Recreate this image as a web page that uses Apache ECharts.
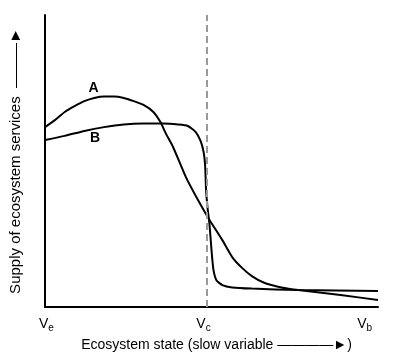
<!DOCTYPE html>
<html>
<head>
<meta charset="utf-8">
<script src="https://cdn.jsdelivr.net/npm/echarts@6/dist/echarts.min.js"></script>
<style>html,body{margin:0;padding:0;background:#fff}#c{width:396px;height:364px}</style>
</head>
<body>
<div id="c"></div>
<script>
// Curve A: peaked supply that declines gradually
var curveA = [
  [0, 61.6], [2.96, 64.0], [5.92, 66.8], [8.88, 68.8], [11.83, 70.5], [14.79, 71.6],
  [17.75, 72.1], [20.71, 72.1], [23.67, 71.6], [26.63, 70.5], [29.59, 69.2], [32.54, 66.8],
  [34.62, 63.4], [36.39, 59.2], [38.46, 54.8], [42.31, 44.5], [46.45, 35.6], [49.41, 29.8],
  [53.25, 22.9], [56.21, 17.1], [59.17, 13.4], [62.13, 10.6], [65.98, 8.2], [71.01, 6.7],
  [76.04, 5.8], [88.76, 4.1], [100, 2.4]
];
// Curve B: flat supply with abrupt collapse at Vc
var curveB = [
  [0, 57.2], [5.92, 58.6], [11.83, 60.3], [17.75, 61.6], [23.67, 62.5], [29.59, 62.8],
  [35.5, 62.8], [39.94, 62.5], [42.9, 62.0], [45.27, 59.9], [46.75, 56.8], [47.63, 53.1],
  [48.08, 48.6], [48.37, 40.1], [48.82, 33.9], [49.41, 28.1], [50.0, 19.5], [50.59, 12.7],
  [51.48, 9.2], [53.25, 7.5], [56.21, 6.7], [62.13, 6.3], [76.04, 5.8], [100, 5.5]
];
var vcPosition = 48.5;
var tickPositions = [0.44, 47.6, 96.0];
var tickSubscripts = ['e', 'c', 'b'];
var labelA = [14.6, 75.0];
var labelB = [15.0, 57.9];

var FONT = '"Liberation Sans", Arial, sans-serif';
var chart = echarts.init(document.getElementById('c'), null, {renderer: 'canvas'});
chart.setOption({
  animation: false,
  backgroundColor: '#fff',
  grid: {left: 40, right: 18, top: 15, bottom: 57, containLabel: false},
  xAxis: {
    type: 'value', min: 0, max: 100,
    splitLine: {show: false},
    axisTick: {show: false},
    axisLine: {show: true, lineStyle: {color: '#000', width: 2}},
    axisLabel: {
      show: true,
      customValues: tickPositions,
      margin: 8,
      formatter: function (v) {
        var i = tickPositions.indexOf(v);
        return '{v|V}{s|' + (i >= 0 ? tickSubscripts[i] : '') + '}';
      },
      rich: {
        v: {fontFamily: FONT, fontSize: 14, color: '#000', lineHeight: 18, verticalAlign: 'middle'},
        s: {fontFamily: FONT, fontSize: 10, color: '#000', lineHeight: 18, verticalAlign: 'bottom'}
      }
    },
    name: 'Ecosystem state (slow variable \u2014\u2014\u2014\u2014\u25BA)',
    nameLocation: 'middle',
    nameGap: 29,
    nameTextStyle: {fontFamily: FONT, fontSize: 14, color: '#000', padding: [0, 0, 0, 10]}
  },
  yAxis: {
    type: 'value', min: 0, max: 100,
    splitLine: {show: false},
    axisTick: {show: false},
    axisLabel: {show: false},
    axisLine: {show: true, lineStyle: {color: '#000', width: 2}},
    name: 'Supply of ecosystem services  \u2014\u2014\u2014\u25BA',
    nameLocation: 'middle',
    nameGap: 22,
    nameTextStyle: {fontFamily: FONT, fontSize: 15, color: '#000'}
  },
  series: [
    {
      type: 'line', data: [], z: 1, silent: true,
      markLine: {
        symbol: 'none', silent: true, label: {show: false},
        lineStyle: {type: [7, 4], color: '#999', width: 2},
        data: [{xAxis: vcPosition}]
      }
    },
    {
      name: 'A', type: 'line', data: curveA, z: 3,
      showSymbol: false, smooth: 0.2,
      lineStyle: {color: '#000', width: 2},
      markPoint: {
        symbol: 'circle', symbolSize: 0,
        label: {show: true, formatter: 'A', fontFamily: FONT, fontSize: 14, fontWeight: 'bold', color: '#000', position: 'inside'},
        data: [{coord: labelA}]
      }
    },
    {
      name: 'B', type: 'line', data: curveB, z: 3,
      showSymbol: false, smooth: 0.2,
      lineStyle: {color: '#000', width: 2},
      markPoint: {
        symbol: 'circle', symbolSize: 0,
        label: {show: true, formatter: 'B', fontFamily: FONT, fontSize: 14, fontWeight: 'bold', color: '#000', position: 'inside'},
        data: [{coord: labelB}]
      }
    }
  ]
});
</script>
</body>
</html>
